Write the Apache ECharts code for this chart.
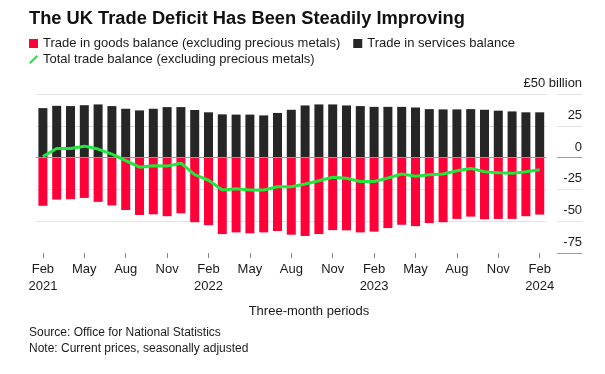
<!DOCTYPE html>
<html>
<head>
<meta charset="utf-8">
<script src="https://cdn.jsdelivr.net/npm/echarts@6/dist/echarts.min.js"></script>
<style>
html,body{margin:0;padding:0;background:#fff;}
#chart{width:605px;height:374px;}
</style>
</head>
<body>
<div id="chart"></div>
<script>
const categories = [
  'Feb 2021','Mar 2021','Apr 2021','May 2021','Jun 2021','Jul 2021','Aug 2021','Sep 2021','Oct 2021','Nov 2021','Dec 2021',
  'Jan 2022','Feb 2022','Mar 2022','Apr 2022','May 2022','Jun 2022','Jul 2022','Aug 2022','Sep 2022','Oct 2022','Nov 2022','Dec 2022',
  'Jan 2023','Feb 2023','Mar 2023','Apr 2023','May 2023','Jun 2023','Jul 2023','Aug 2023','Sep 2023','Oct 2023','Nov 2023','Dec 2023',
  'Jan 2024','Feb 2024'
];
const goodsBalance = [
  -37.9,-33.0,-32.7,-31.7,-34.8,-37.6,-41.2,-45.1,-44.6,-46.1,-43.8,
  -50.8,-53.1,-60.1,-58.8,-59.5,-58.8,-57.7,-60.6,-61.6,-60.1,-57.0,-57.2,
  -58.8,-58.2,-55.4,-52.8,-53.9,-51.5,-50.8,-48.2,-46.4,-48.5,-48.2,-48.2,
  -46.1,-44.8
];
const servicesBalance = [
  38.9,40.7,40.5,41.2,41.8,40.5,38.4,37.1,38.4,39.7,39.7,
  37.4,35.6,34.0,33.8,33.8,33.2,35.1,37.6,41.0,41.8,41.8,41.0,
  40.5,39.9,39.9,39.9,39.4,38.1,37.9,37.9,38.1,37.6,36.9,36.3,
  35.6,35.6
];
const totalBalance = [
  0.8,7.2,7.2,9.0,6.7,2.8,-2.3,-7.5,-6.4,-6.7,-4.4,
  -13.4,-17.8,-25.5,-24.5,-25.5,-25.5,-22.9,-22.9,-20.7,-18.2,-15.5,-16.2,
  -18.8,-18.8,-16.0,-12.9,-14.7,-13.4,-12.9,-10.3,-8.5,-11.1,-11.9,-12.4,
  -11.1,-9.5
];
const yTicks = [50, 25, 0, -25, -50, -75];

const RED = '#ff0039', BLACK = '#262626', GREEN = '#1fe83c';
const FONT = '"Liberation Sans", Arial, sans-serif';
const TXT = '#1a1a1a';

const chart = echarts.init(document.getElementById('chart'), null, {renderer:'canvas'});
const yAxisBase = {
  type: 'value', position: 'right', min: yTicks[yTicks.length-1], max: yTicks[0], interval: 25,
  offset: 10.5, axisLine: {show:false}
};
chart.setOption({
  animation: false,
  textStyle: {fontFamily: FONT},
  title: {
    text: 'The UK Trade Deficit Has Been Steadily Improving',
    left: 29, top: 10, padding: 0,
    textStyle: {fontFamily: FONT, fontWeight: 'bold', fontSize: 18.3, color: '#111'}
  },
  legend: [
    {
      data: [
        {name: 'Trade in goods balance (excluding precious metals)', icon: 'rect'},
        {name: 'Trade in services balance', icon: 'rect'}
      ],
      left: 29, top: 37, itemWidth: 9, itemHeight: 9, itemGap: 13, padding: 0,
      textStyle: {fontFamily: FONT, fontSize: 13, color: TXT}, selectedMode: false
    },
    {
      data: [{name: 'Total trade balance (excluding precious metals)', icon: 'path://M0,9 L8,1 L9.5,2.5 L1.5,10.5 Z'}],
      left: 29, top: 53, itemWidth: 9, itemHeight: 9, padding: 0,
      textStyle: {fontFamily: FONT, fontSize: 13, color: TXT}, selectedMode: false
    }
  ],
  grid: {left: 36, right: 58.4, top: 94, bottom: 121, containLabel: false},
  xAxis: {
    type: 'category', data: categories, boundaryGap: true,
    axisLine: {show: true, onZero: false, lineStyle: {color: 'rgba(0,0,0,0)'}},
    axisTick: {show: true, alignWithLabel: true, length: 5, interval: (i) => i % 3 === 0,
      lineStyle: {color: '#888', width: 1}},
    axisLabel: {
      interval: (i) => i % 3 === 0, margin: 8,
      fontFamily: FONT, fontSize: 13, color: TXT, lineHeight: 17,
      formatter: (v) => { const [m, y] = v.split(' '); return m === 'Feb' ? m + '\n' + y : m; }
    }
  },
  yAxis: [
    Object.assign({}, yAxisBase, {
      axisTick: {show: true, length: 25, inside: false, lineStyle: {color: '#e3e3e3'}},
      axisLabel: {
        show: true, margin: 25, align: 'right', verticalAlign: 'bottom', padding: [0,0,4,0],
        fontFamily: FONT, fontSize: 13, color: TXT,
        formatter: (v) => v === 50 ? '£50 billion' : String(v)
      },
      splitLine: {show: true, lineStyle: {color: ['transparent', '#e3e3e3', '#e3e3e3', 'transparent', '#e3e3e3', '#e3e3e3'], width: 1}}
    }),
    Object.assign({}, yAxisBase, {
      axisTick: {show: true, length: 25, customValues: [0, -75], lineStyle: {color: '#999'}},
      axisLabel: {show: false},
      splitLine: {show: false}
    })
  ],
  series: [
    {
      name: 'Trade in goods balance (excluding precious metals)', type: 'bar', data: goodsBalance,
      barWidth: 9, barGap: '-100%', itemStyle: {color: RED}, z: 2,
      markLine: {
        silent: true, symbol: 'none', label: {show: false},
        lineStyle: {color: '#999', width: 1, type: 'solid'},
        data: [{yAxis: 0}], z: 5
      }
    },
    {
      name: 'Trade in services balance', type: 'bar', data: servicesBalance,
      barWidth: 9, barGap: '-100%', itemStyle: {color: BLACK}, z: 2
    },
    {
      name: 'Total trade balance (excluding precious metals)', type: 'line', data: totalBalance,
      showSymbol: false, symbol: 'none', itemStyle: {color: GREEN},
      lineStyle: {color: GREEN, width: 3}, z: 10
    }
  ],
  graphic: [
    {type: 'text', x: 309, y: 311, style: {text: 'Three-month periods', align: 'center', verticalAlign: 'middle', fontFamily: FONT, fontSize: 13, fill: TXT}},
    {type: 'text', x: 29, y: 333, style: {text: 'Source: Office for National Statistics', verticalAlign: 'middle', fontFamily: FONT, fontSize: 12, fill: TXT}},
    {type: 'text', x: 29, y: 349, style: {text: 'Note: Current prices, seasonally adjusted', verticalAlign: 'middle', fontFamily: FONT, fontSize: 12, fill: TXT}}
  ]
});
</script>
</body>
</html>
